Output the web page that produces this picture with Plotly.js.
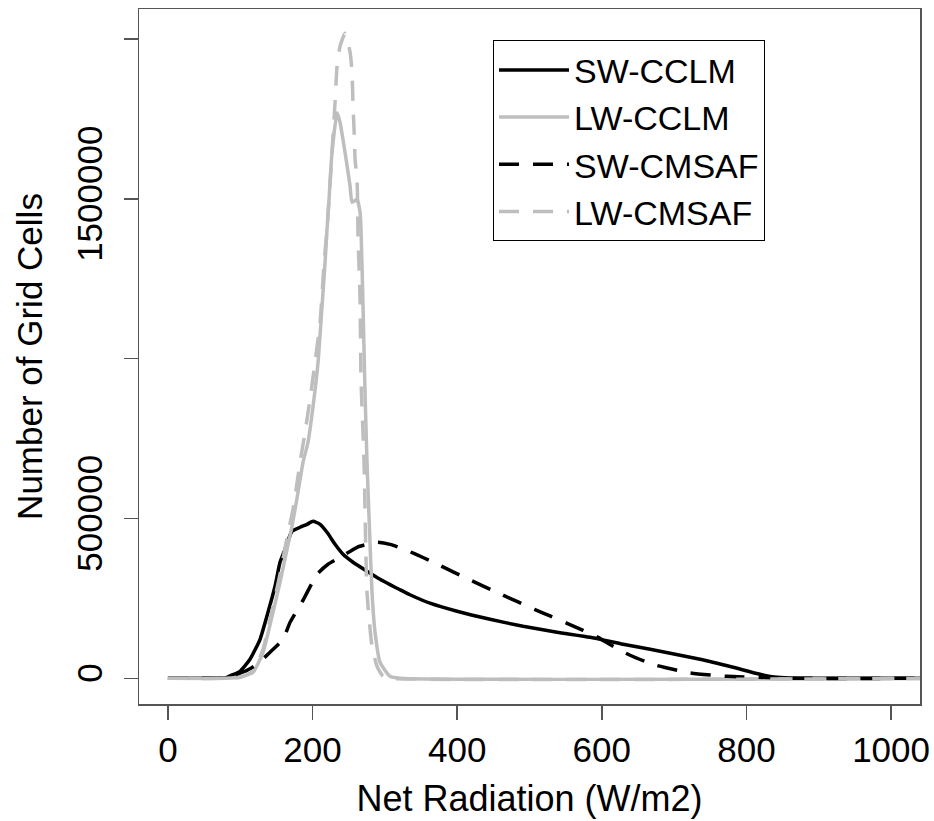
<!DOCTYPE html>
<html>
<head>
<meta charset="utf-8">
<script src="https://cdn.plot.ly/plotly-3.0.1.min.js"></script>
<style>html,body{margin:0;padding:0;background:#fff;}#chart{width:934px;height:821px;}</style>
</head>
<body>
<div id="chart"></div>
<script>
// Net radiation (W/m2) vs number of grid cells
var swCclmX = [0, 60, 80, 86, 99.7, 113.5, 127.4, 138.4, 148.1, 155, 161.9, 171.6, 182.7, 192.4, 200.7, 210.4, 220, 231.1, 242.2, 256, 275.3, 293.3, 307.1, 320.9, 334.7, 362.4, 399.8, 445.4, 491.1, 538.1, 583.8, 629.4, 666.8, 735.9, 781.5, 818.8, 842.3, 870, 1100];
var swCclmY = [0, 0, 1500, 8000, 21900, 59500, 122000, 206500, 287900, 363000, 403700, 460000, 472600, 481900, 491300, 481900, 456900, 419400, 388100, 363000, 334900, 309800, 293000, 277000, 261500, 235000, 209700, 184600, 162700, 144000, 128300, 106400, 90800, 59500, 34400, 12500, 3130, 0, 0];

var lwCclmX = [0, 80, 99.7, 117.7, 131.5, 145.3, 155, 164.7, 171.6, 179.9, 186.8, 193.7, 200.7, 207.6, 213.1, 217.3, 220, 222.8, 226.9, 233.9, 238, 244.9, 251.9, 254.6, 261.5, 265.7, 267, 269.8, 272.5, 275.3, 279, 282.2, 286.4, 293.3, 307.1, 320.9, 1100];
var lwCclmY = [0, 0, 3130, 18800, 81400, 206500, 300400, 403700, 475700, 582100, 676000, 738600, 851200, 988900, 1164200, 1301900, 1405100, 1499000, 1646100, 1770000, 1740000, 1646100, 1539700, 1489600, 1499000, 1458300, 1405100, 1164200, 900000, 676000, 450000, 269100, 144000, 50100, 6260, 0, 0];

var swCmsafX = [0, 60, 80, 86, 106.6, 123.2, 141.2, 159.2, 168.9, 187.5, 206.2, 221.4, 240.8, 261.5, 289.1, 307.1, 330.6, 352.7, 376.2, 394.3, 420.5, 441.3, 463.4, 484.2, 507.7, 528.4, 552, 574.1, 594.8, 615.6, 639.1, 662.6, 676.4, 722, 773.2, 828.5, 870, 1100];
var swCmsafY = [0, 0, 1500, 5000, 21900, 43800, 81400, 122000, 175300, 247200, 325500, 356800, 381800, 410000, 425600, 419000, 400000, 378000, 353000, 333000, 305000, 283000, 260000, 239000, 215000, 195000, 172000, 150000, 128000, 100000, 72000, 50000, 40000, 17000, 6000, 2500, 0, 0];

var lwCmsafX = [0, 80, 99.7, 117.7, 131.5, 145.3, 155, 164.7, 173, 182.7, 189.6, 196.5, 203.4, 210.4, 216, 220, 222.8, 226.9, 231.1, 232.5, 233.9, 238, 244.9, 251.9, 254.6, 256, 257.4, 258.8, 261.5, 262.2, 262.9, 265.7, 267, 271.2, 275.3, 282.2, 289.1, 297.4, 307.1, 1100];
var lwCmsafY = [0, 0, 3130, 21900, 90800, 225300, 325500, 440000, 528900, 676000, 769900, 873100, 988900, 1114100, 1301900, 1405100, 1499000, 1646100, 1802600, 1865200, 1915300, 1977800, 2018500, 1959100, 1896500, 1790100, 1718100, 1624200, 1561600, 1499000, 1383200, 1186000, 935700, 676000, 269100, 100100, 37600, 6260, 0, 0];

var seriesNames = ["SW-CCLM", "LW-CCLM", "SW-CMSAF", "LW-CMSAF"];
var xTickVals = [0, 200, 400, 600, 800, 1000];
var yTickVals = [0, 500000, 1000000, 1500000, 2000000];
var yTickText = ["0", "500000", "", "1500000", ""];

var FONT = "Liberation Sans, Arial, Helvetica, sans-serif";
var BLACK = "#000000", GREY = "#bebebe";

function tr(x, y, name, color, dash) {
  return {
    type: "scatter", mode: "lines", x: x, y: y, name: name,
    line: {color: color, width: 3.5, dash: dash, shape: "spline", smoothing: 0.5},
    hoverinfo: "skip"
  };
}

var data = [
  tr(swCclmX, swCclmY, seriesNames[0], BLACK, "solid"),
  tr(lwCclmX, lwCclmY, seriesNames[1], GREY, "solid"),
  tr(swCmsafX, swCmsafY, seriesNames[2], BLACK, "20px,14px"),
  tr(lwCmsafX, lwCmsafY, seriesNames[3], GREY, "20px,14px")
];

var axisCommon = {
  showgrid: false, zeroline: false, showline: true, mirror: true,
  linecolor: "#555", linewidth: 1.5,
  ticks: "outside", ticklen: 14, tickwidth: 1.5, tickcolor: "#555",
  tickfont: {family: FONT, size: 35, color: "#000"}
};

var layout = {
  width: 934, height: 821,
  margin: {l: 139, r: 14, t: 9, b: 117, pad: 0},
  paper_bgcolor: "#fff", plot_bgcolor: "#fff",
  font: {family: FONT, color: "#000"},
  showlegend: true,
  legend: {
    x: 0.4533, y: 0.955, xanchor: "left", yanchor: "top",
    bordercolor: "#000", borderwidth: 1, bgcolor: "#fff",
    font: {family: FONT, size: 34, color: "#000"},
    itemwidth: 70
  },
  xaxis: Object.assign({}, axisCommon, {
    range: [-40, 1040], tickmode: "array", tickvals: xTickVals,
    title: {text: "Net Radiation (W/m2)", font: {family: FONT, size: 36, color: "#000"}, standoff: 18}
  }),
  yaxis: Object.assign({}, axisCommon, {
    range: [-80500, 2094500], tickmode: "array", tickvals: yTickVals, ticktext: yTickText,
    tickangle: -90, ticklabelstandoff: 8,
    title: {text: "Number of Grid Cells", font: {family: FONT, size: 35, color: "#000"}, standoff: 16}
  })
};

Plotly.newPlot("chart", data, layout, {displayModeBar: false, staticPlot: true});
</script>
</body>
</html>
